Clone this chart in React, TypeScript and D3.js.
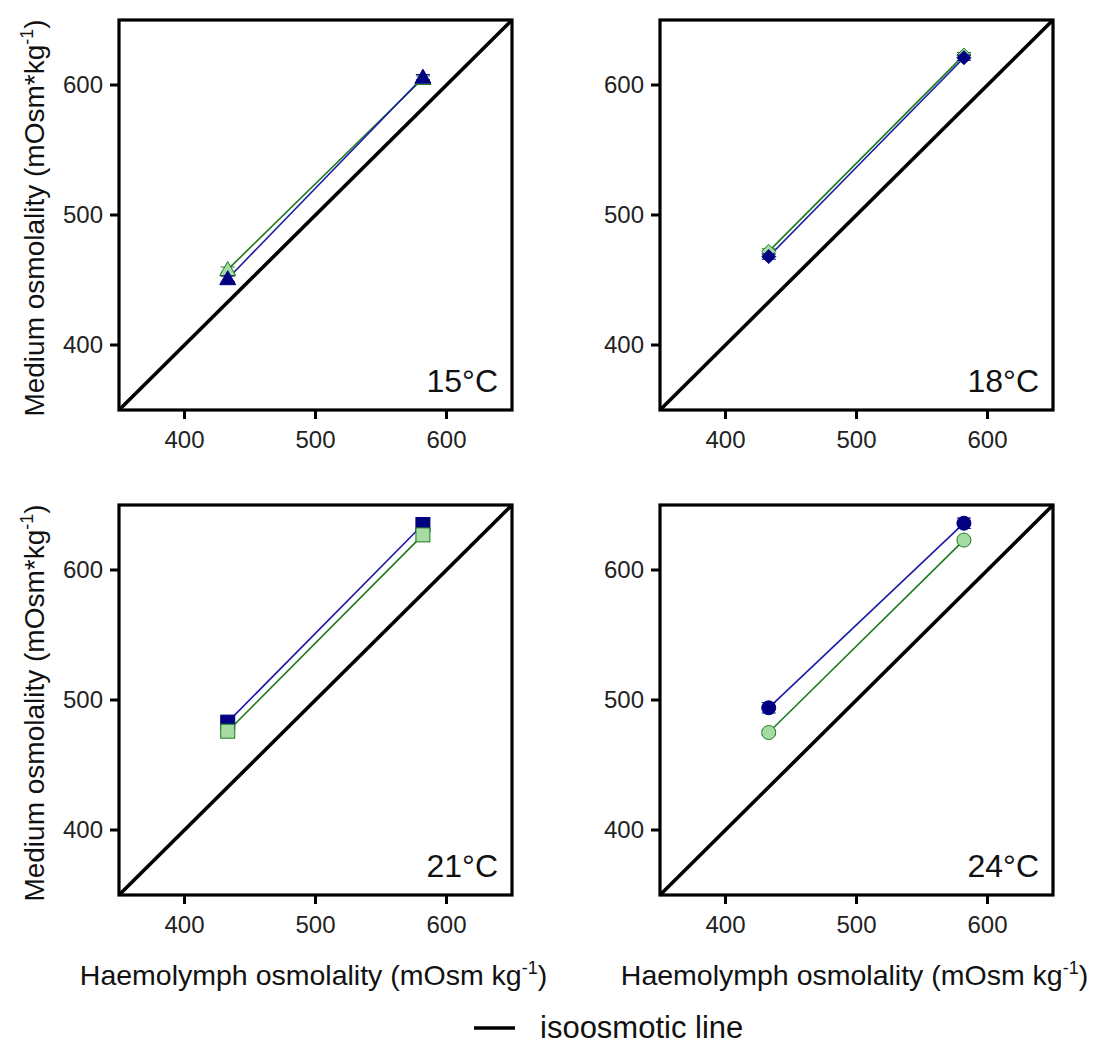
import React from "react";
import * as d3 from "d3";

// ---- data ----
const panels = ["15°C", "18°C", "21°C", "24°C"];
const markerShapes = ["triangle", "diamond", "square", "circle"];
const haemolymph = [433, 582];
const blueSeries = [
  [451, 606],
  [468, 621],
  [483, 635],
  [494, 636],
];
const greenSeries = [
  [458, 605],
  [472, 623],
  [476, 627],
  [475, 623],
];
const blueErr = [
  [2, 2],
  [2, 2],
  [3, 3],
  [4, 4],
];
const greenErr = [
  [2, 2],
  [2, 2],
  [4, 3],
  [2, 2],
];
const ticks = [400, 500, 600];

const BLUE = "#000080";
const BLUE_LINE = "#1a1aa8";
const GREEN = "#1e7a1e";
const GREEN_FILL = "#a6dba6";
const FONT = "Liberation Sans, Arial, sans-serif";

const panelW = 393;
const panelH = 390;
const origins = [
  [119, 20],
  [660, 20],
  [119, 505],
  [660, 505],
];

function Marker({ shape, x, y, fill, stroke }) {
  const s = 7;
  if (shape === "triangle") {
    return <path d={`M${x},${y - s - 1}L${x + s + 1},${y + s - 1}L${x - s - 1},${y + s - 1}Z`} fill={fill} stroke={stroke} strokeWidth={1} />;
  }
  if (shape === "diamond") {
    return <path d={`M${x},${y - s}L${x + s},${y}L${x},${y + s}L${x - s},${y}Z`} fill={fill} stroke={stroke} strokeWidth={1} />;
  }
  if (shape === "square") {
    return <rect x={x - s} y={y - s} width={2 * s} height={2 * s} fill={fill} stroke={stroke} strokeWidth={1} />;
  }
  return <circle cx={x} cy={y} r={s} fill={fill} stroke={stroke} strokeWidth={1} />;
}

function Panel({ i }) {
  const [ox, oy] = origins[i];
  const x = d3.scaleLinear().domain([350, 650]).range([0, panelW]);
  const y = d3.scaleLinear().domain([350, 650]).range([panelH, 0]);
  const line = d3
    .line<number>()
    .x((_, k) => x(haemolymph[k]))
    .y((d) => y(d));
  const shape = markerShapes[i];

  const series = [
    { vals: greenSeries[i], err: greenErr[i], fill: GREEN_FILL, stroke: GREEN, lineC: GREEN },
    { vals: blueSeries[i], err: blueErr[i], fill: BLUE, stroke: BLUE, lineC: BLUE_LINE },
  ];
  const order = i === 2 ? [1, 0] : [0, 1];

  return (
    <g transform={`translate(${ox},${oy})`}>
      {/* isoosmotic line */}
      <line x1={x(350)} y1={y(350)} x2={x(650)} y2={y(650)} stroke="#000" strokeWidth={3.6} />
      {order.map((si) => {
        const s = series[si];
        return <path key={si} d={line(s.vals) || ""} fill="none" stroke={s.lineC} strokeWidth={1.6} />;
      })}
      {order.map((si) => {
        const s = series[si];
        return (
          <g key={"m" + si}>
            {s.vals.map((v, k) => (
              <g key={k}>
                <line x1={x(haemolymph[k])} x2={x(haemolymph[k])} y1={y(v - s.err[k])} y2={y(v + s.err[k])} stroke={s.stroke} strokeWidth={1} />
                <line x1={x(haemolymph[k]) - 7} x2={x(haemolymph[k]) + 7} y1={y(v - s.err[k])} y2={y(v - s.err[k])} stroke={s.stroke} strokeWidth={1} />
                <line x1={x(haemolymph[k]) - 7} x2={x(haemolymph[k]) + 7} y1={y(v + s.err[k])} y2={y(v + s.err[k])} stroke={s.stroke} strokeWidth={1} />
                <Marker shape={shape} x={x(haemolymph[k])} y={y(v)} fill={s.fill} stroke={s.stroke} />
              </g>
            ))}
          </g>
        );
      })}
      {/* frame */}
      <rect x={0} y={0} width={panelW} height={panelH} fill="none" stroke="#000" strokeWidth={3.2} />
      {/* ticks */}
      {ticks.map((t) => (
        <g key={"x" + t}>
          <line x1={x(t)} x2={x(t)} y1={panelH} y2={panelH + 9} stroke="#000" strokeWidth={3} />
          <text x={x(t)} y={panelH + 38} textAnchor="middle" fontSize={24} fontFamily={FONT} fill="#222">
            {t}
          </text>
        </g>
      ))}
      {ticks.map((t) => (
        <g key={"y" + t}>
          <line x1={-9} x2={0} y1={y(t)} y2={y(t)} stroke="#000" strokeWidth={3} />
          <text x={-16} y={y(t) + 8} textAnchor="end" fontSize={24} fontFamily={FONT} fill="#222">
            {t}
          </text>
        </g>
      ))}
      <text x={panelW - 14} y={panelH - 18} textAnchor="end" fontSize={32} fontFamily={FONT} fill="#111">
        {panels[i]}
      </text>
      {i % 2 === 0 && (
        <text
          transform={`translate(${-75},${panelH / 2 + 3}) rotate(-90)`}
          textAnchor="middle"
          fontSize={28}
          fontFamily={FONT}
          fill="#111"
        >
          Medium osmolality (mOsm*kg
          <tspan dy={-11} fontSize={18}>-1</tspan>
          <tspan dy={11}>)</tspan>
        </text>
      )}
      {i >= 2 && (
        <text x={panelW / 2 - 2} y={panelH + 90} textAnchor="middle" fontSize={28.5} fontFamily={FONT} fill="#111">
          Haemolymph osmolality (mOsm kg
          <tspan dy={-11} fontSize={18}>-1</tspan>
          <tspan dy={11}>)</tspan>
        </text>
      )}
    </g>
  );
}

export default function App() {
  return (
    <svg width={1099} height={1044} style={{ display: "block", background: "#fff", marginLeft: -8, marginTop: -8 }}>
      {panels.map((_, i) => (
        <Panel key={i} i={i} />
      ))}
      <line x1={474} x2={515} y1={1028} y2={1028} stroke="#000" strokeWidth={3.4} />
      <text x={540} y={1038} fontSize={31} fontFamily={FONT} fill="#111">
        isoosmotic line
      </text>
    </svg>
  );
}
